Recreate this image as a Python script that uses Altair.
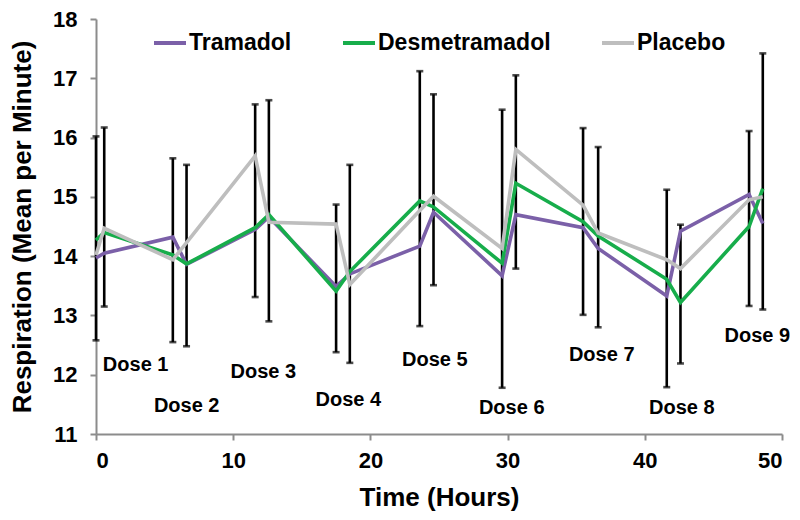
import altair as alt
import pandas as pd

times = [0, 0.6, 5.6, 6.6, 11.6, 12.6, 17.5, 18.5, 23.6, 24.6, 29.6, 30.6, 35.5, 36.6, 41.6, 42.6, 47.6, 48.6]
tramadol = [13.97, 14.05, 14.32, 13.86, 14.45, 14.66, 13.49, 13.70, 14.17, 14.74, 13.67, 14.70, 14.48, 14.13, 13.33, 14.42, 15.04, 14.55]
desmetramadol = [14.27, 14.40, 14.02, 13.87, 14.48, 14.70, 13.41, 13.74, 14.93, 14.83, 13.88, 15.23, 14.58, 14.34, 13.61, 13.22, 14.50, 15.14]
placebo = [14.02, 14.47, 13.94, 14.23, 15.69, 14.57, 14.54, 13.52, 14.77, 15.01, 14.13, 15.80, 14.86, 14.39, 13.94, 13.79, 14.95, 15.00]
err_low = [12.58, 13.15, 12.55, 12.48, 13.31, 12.90, 12.38, 12.20, 12.82, 13.51, 11.78, 13.79, 13.01, 12.80, 11.79, 12.19, 13.16, 13.10]
err_high = [16.02, 16.17, 15.65, 15.54, 16.56, 16.63, 14.87, 15.54, 17.12, 16.73, 16.47, 17.05, 16.16, 15.84, 15.12, 14.53, 16.11, 17.42]

dose_labels = ["Dose 1", "Dose 2", "Dose 3", "Dose 4", "Dose 5", "Dose 6", "Dose 7", "Dose 8", "Dose 9"]
dose_x = [2.89, 6.61, 12.2, 18.39, 24.7, 30.3, 36.86, 42.7, 48.2]
dose_y = [12.16, 11.47, 12.05, 11.58, 12.24, 11.44, 12.33, 11.44, 12.66]

series_names = ["Tramadol", "Desmetramadol", "Placebo"]
series_colors = ["#7B60A8", "#17AD4B", "#BEBEBE"]

FONT = "Liberation Sans"

rows = []
for name, vals in zip(series_names, [tramadol, desmetramadol, placebo]):
    for t, v in zip(times, vals):
        rows.append({"time": t, "value": v, "series": name, "order": series_names.index(name)})
lines_df = pd.DataFrame(rows)
err_df = pd.DataFrame({"time": times, "low": err_low, "high": err_high})
dose_df = pd.DataFrame({"label": dose_labels, "x": dose_x, "y": dose_y})

xscale = alt.Scale(domain=[0, 50], nice=False, zero=False)
yscale = alt.Scale(domain=[11, 18], nice=False, zero=False)

xaxis = alt.Axis(values=[0, 10, 20, 30, 40, 50], format="d", title="Time (Hours)", grid=False,
                 tickSize=6, labelPadding=10, titlePadding=13)
yaxis = alt.Axis(values=[11, 12, 13, 14, 15, 16, 17, 18], format="d", title="Respiration (Mean per Minute)",
                 grid=False, tickSize=6, labelPadding=13, titlePadding=17)

rules = alt.Chart(err_df).mark_rule(color="black", strokeWidth=2.6).encode(
    x=alt.X("time:Q", scale=xscale, axis=xaxis),
    y=alt.Y("low:Q", scale=yscale, axis=yaxis),
    y2="high:Q",
)
caps_top = alt.Chart(err_df).mark_tick(color="black", orient="horizontal", size=7, thickness=2.6).encode(
    x="time:Q", y="high:Q"
)
caps_bot = alt.Chart(err_df).mark_tick(color="black", orient="horizontal", size=7, thickness=2.6).encode(
    x="time:Q", y="low:Q"
)

lines = alt.Chart(lines_df).mark_line(strokeWidth=3.6).encode(
    x="time:Q",
    y="value:Q",
    color=alt.Color("series:N",
                    scale=alt.Scale(domain=series_names, range=series_colors),
                    sort=series_names,
                    legend=alt.Legend(orient="none", legendX=56, legendY=6, direction="horizontal",
                                      title=None, symbolType="stroke", symbolSize=1024,
                                      symbolStrokeWidth=4, labelFontSize=23, labelFont=FONT,
                                      labelFontWeight="bold", labelColor="black", labelOffset=1,
                                      labelLimit=400, columnPadding=43, padding=0)),
    detail="series:N",
    order="order:Q",
)

doses = alt.Chart(dose_df).mark_text(font=FONT, fontSize=20, fontWeight="bold", color="black",
                                     align="center", baseline="middle").encode(
    x="x:Q", y="y:Q", text="label:N"
)

chart = alt.layer(rules, caps_top, caps_bot, lines, doses).properties(
    width=686, height=415,
    autosize=alt.AutoSizeParams(type="none"),
    padding={"left": 88, "top": 11, "right": 10, "bottom": 78},
).configure_view(stroke=None).configure_axis(
    domainColor="#8C8C8C", tickColor="#8C8C8C", domainWidth=2, tickWidth=2,
    labelFont=FONT, labelFontSize=22, labelFontWeight="bold", labelColor="black",
    titleFont=FONT, titleFontSize=26, titleFontWeight="bold", titleColor="black",
)

chart.save("out.html", embed_options={"renderer": "svg", "actions": False})
